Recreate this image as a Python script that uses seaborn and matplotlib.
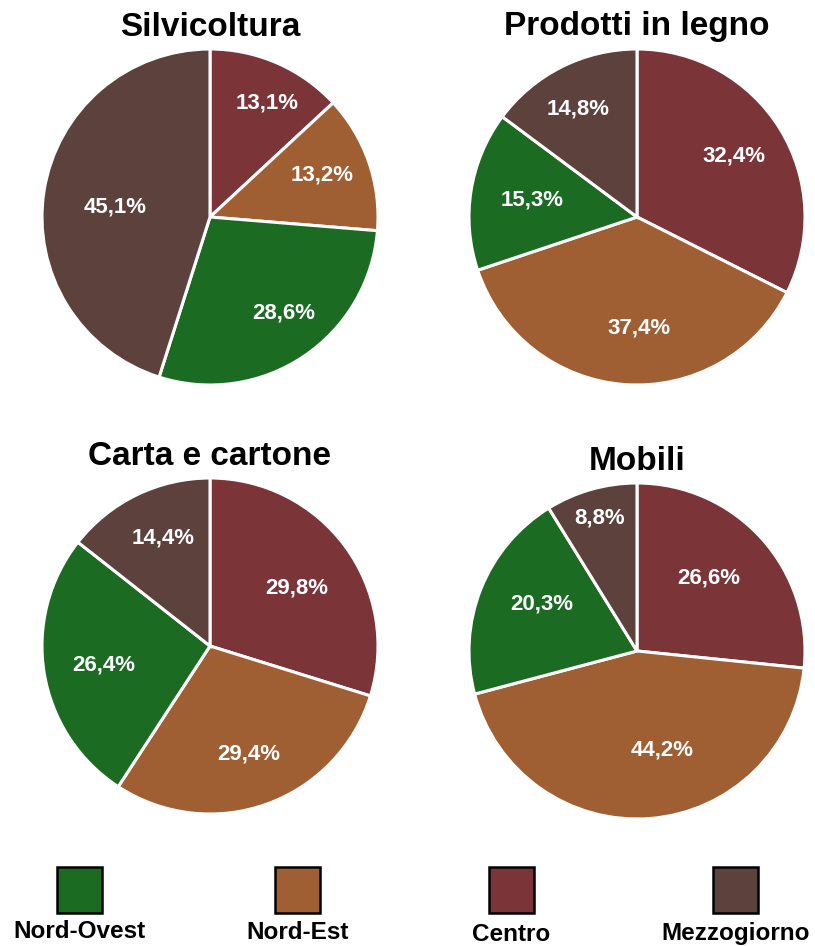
import matplotlib
matplotlib.use("Agg")
import numpy as np
import matplotlib.pyplot as plt
from matplotlib.patches import Rectangle
import seaborn as sns

# Regional shares (%) per sector, listed clockwise from 12 o'clock
regions = ["Centro", "Nord-Est", "Nord-Ovest", "Mezzogiorno"]
sectors = ["Silvicoltura", "Prodotti in legno", "Carta e cartone", "Mobili"]
silvicoltura = [13.1, 13.2, 28.6, 45.1]
prodotti_legno = [32.4, 37.4, 15.3, 14.8]
carta_cartone = [29.8, 29.4, 26.4, 14.4]
mobili = [26.6, 44.2, 20.3, 8.8]
legend_order = ["Nord-Ovest", "Nord-Est", "Centro", "Mezzogiorno"]

sns.set_theme(style="white")
plt.rcParams["font.family"] = ["Liberation Sans", "DejaVu Sans"]

palette = dict(zip(
    ["Nord-Ovest", "Nord-Est", "Centro", "Mezzogiorno"],
    sns.color_palette(["#1b6b23", "#a05e33", "#7b3539", "#5c413d"]),
))

W, H = 815, 946
fig = plt.figure(figsize=(W / 100, H / 100), dpi=100)
fig.patch.set_facecolor("white")

R = 168
centers = [(210, 217), (637, 217), (210, 646), (637, 651)]
title_y = [27, 27, 456, 461]
all_values = [silvicoltura, prodotti_legno, carta_cartone, mobili]

# label placement inside each wedge: radial distance and angular nudge (deg)
label_dist = [
    [0.76, 0.71, 0.72, 0.57],
    [0.68, 0.66, 0.63, 0.73],
    [0.62, 0.68, 0.64, 0.70],
    [0.61, 0.61, 0.63, 0.82],
]
label_nudge = [
    [-3, 1.5, 3.5, 3],
    [0.7, 5, -0.4, 1.9],
    [-2.7, -0.2, 0.9, -2.2],
    [3.3, 9.5, -4.4, 0],
]

for i, (name, vals, (cx, cy), ty) in enumerate(zip(sectors, all_values, centers, title_y)):
    ax = fig.add_axes([(cx - R) / W, (H - cy - R) / H, 2 * R / W, 2 * R / H])
    wedges, _, autotexts = ax.pie(
        vals,
        colors=[palette[r] for r in regions],
        startangle=90,
        counterclock=False,
        radius=1.0,
        autopct=lambda p: f"{p:.1f}%".replace(".", ","),
        wedgeprops=dict(edgecolor="white", linewidth=2.2),
        textprops=dict(color="white", fontsize=16, fontweight="bold"),
    )
    for w, t, d, nd in zip(wedges, autotexts, label_dist[i], label_nudge[i]):
        mid = np.deg2rad((w.theta1 + w.theta2) / 2 + nd)
        t.set_position((d * np.cos(mid), d * np.sin(mid)))
    ax.set_xlim(-1, 1)
    ax.set_ylim(-1, 1)
    ax.set_aspect("equal")
    ax.axis("off")
    fig.text(cx / W, 1 - ty / H, name, ha="center", va="center",
             fontsize=24, fontweight="bold", color="black")

# Legend: coloured squares with labels underneath
leg_ax = fig.add_axes([0, 0, 1, 1], facecolor="none")
leg_ax.set_xlim(0, W)
leg_ax.set_ylim(H, 0)
leg_ax.axis("off")
sq_x = [57, 275, 489, 713]
lab_base = [938, 939, 941, 940]
for reg, x0, ly in zip(legend_order, sq_x, lab_base):
    leg_ax.add_patch(Rectangle((x0, 867), 45, 46, facecolor=palette[reg],
                               edgecolor="black", linewidth=1.8))
    leg_ax.text(x0 + 22.5, ly, reg, ha="center", va="baseline",
                fontsize=17.5, fontweight="bold", color="black")

fig.savefig("out.png", dpi=100, facecolor="white")
